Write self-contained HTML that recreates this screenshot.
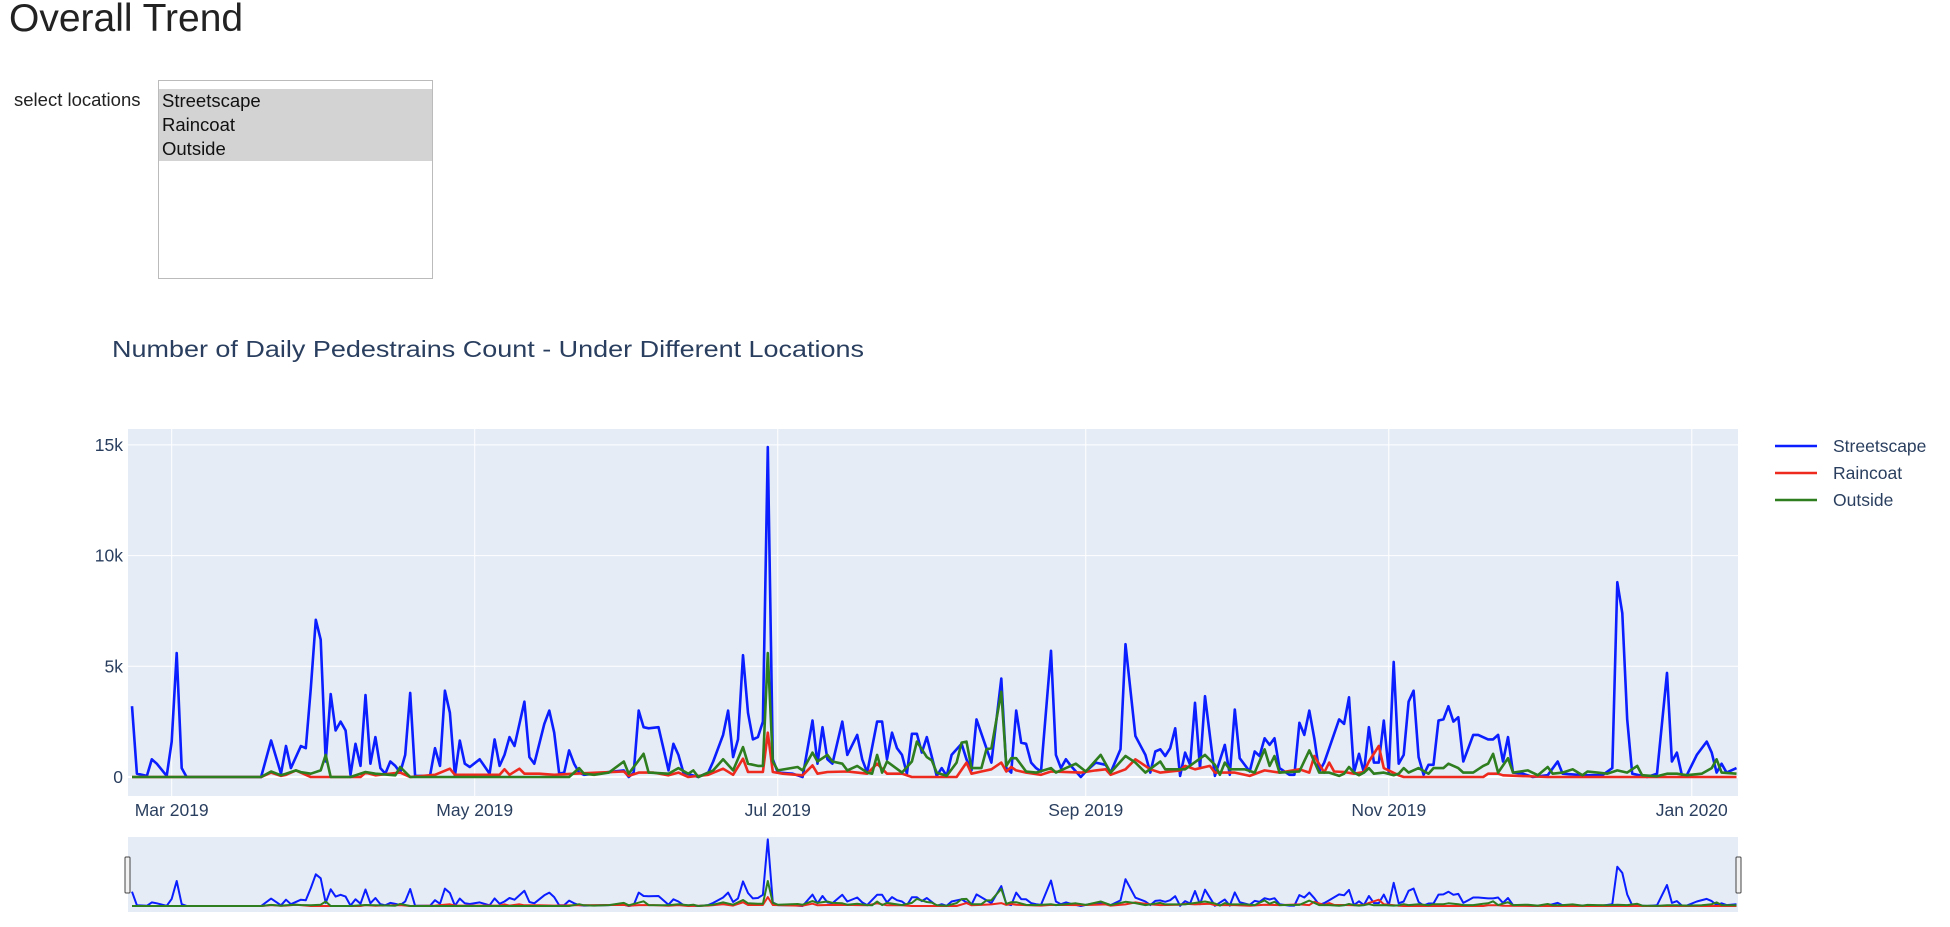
<!DOCTYPE html>
<html><head><meta charset="utf-8">
<style>
body{margin:0;width:1950px;height:927px;background:#fff;font-family:"Liberation Sans",sans-serif;overflow:hidden;position:relative}
#h{position:absolute;left:9px;top:-3px;margin:0;font-size:39px;font-weight:normal;color:#222}
#lbl{position:absolute;left:14px;top:89px;font-size:18.5px;color:#222}
#lb{position:absolute;left:158px;top:80px;width:273px;height:197px;border:1px solid #bbb;background:#fff}
.opt{position:absolute;left:0;width:273px;height:24px;background:#d3d3d3;font-size:18.5px;line-height:24px;padding-left:3px;box-sizing:border-box;color:#111}
svg{position:absolute;left:0;top:0}
</style></head><body>
<h1 id="h">Overall Trend</h1>
<div id="lbl">select locations</div>
<div id="lb">
<div class="opt" style="top:8px">Streetscape</div>
<div class="opt" style="top:32px">Raincoat</div>
<div class="opt" style="top:56px">Outside</div>
</div>
<svg id="c" width="1950" height="927"></svg>
<script>
const blueDays=[0,1,3,4,5,7,8,9,10,11,26,28,30,31,32,34,35,36,37,38,39,40,41,42,43,44,45,46,47,48,49,50,51,52,53,54,55,56,57,60,61,62,63,64,65,66,67,68,70,72,73,74,75,76,77,79,80,81,83,84,85,86,87,88,89,90,91,99,100,101,102,103,104,106,108,109,110,111,114,116,117,119,120,121,122,123,124,125,126,127,128,129,130,133,135,137,138,139,140,141,143,144,146,147,148,150,151,152,153,154,155,156,157,158,159,160,162,163,164,165,167,168,169,170,172,173,175,176,177,178,179,180,181,182,183,185,186,187,188,189,191,192,194,196,197,199,200,202,204,205,206,207,208,209,210,211,212,213,214,215,216,218,220,221,222,223,225,226,227,228,229,230,231,233,234,235,236,237,238,239,240,241,243,244,245,246,247,248,249,250,251,252,253,254,255,256,257,258,259,260,261,262,263,264,265,266,267,268,269,270,271,273,274,275,276,277,278,280,282,285,287,288,292,296,298,299,300,301,302,305,307,309,310,311,312,313,315,317,318,319,320,321,323];
const blueVals=[3200,150,50,800,600,50,1600,5600,400,0,0,1650,150,1400,400,1400,1300,4000,7100,6200,700,3750,2100,2500,2100,100,1500,500,3700,600,1800,400,150,700,500,200,1000,3800,50,50,1300,500,3900,2900,50,1650,600,450,800,150,1700,500,1000,1800,1400,3400,900,600,2400,3000,2000,150,200,1200,600,200,100,300,0,200,3000,2250,2200,2250,300,1500,1000,200,0,200,700,1900,3000,900,1700,5500,2900,1700,1800,2500,14900,800,200,150,0,2550,600,2250,800,600,2500,1000,1900,800,200,2500,2500,800,2000,1300,1000,150,1950,1950,1100,1800,50,400,50,1000,1500,800,300,2600,1300,650,4450,400,200,3000,1550,1500,650,400,250,5700,1000,400,800,500,0,250,650,550,200,1250,6000,1850,1000,200,1150,1250,950,1300,2200,50,1100,550,3350,400,3650,50,1450,100,3050,850,250,1150,950,1750,1450,1750,400,100,100,2450,1900,3000,1750,250,650,1300,2600,2400,3600,200,1050,200,2250,650,650,2550,200,5200,600,1000,3400,3900,900,100,550,550,2550,2600,3200,2500,2700,700,1300,1900,1900,1700,1700,1900,700,1800,200,150,0,80,700,150,80,80,400,8800,7400,2600,150,0,150,4700,700,1100,80,80,1000,1600,1100,200,600,200,400];
const redDays=[0,26,28,30,31,33,36,46,47,49,54,56,61,64,65,74,75,76,78,79,82,85,89,94,99,100,102,105,108,110,112,116,119,121,123,124,127,128,129,131,135,137,138,140,144,146,148,150,152,155,157,166,168,169,171,173,175,176,177,178,180,183,185,191,194,196,197,200,202,203,205,207,211,212,214,217,218,222,225,228,231,235,237,238,240,241,242,244,246,248,249,251,252,255,256,272,273,275,276,285,323];
const redVals=[0,0,200,50,100,300,0,0,200,75,200,0,100,375,100,100,350,100,375,150,150,100,150,200,250,50,200,200,75,200,0,100,375,100,825,225,225,2000,225,150,75,525,150,225,250,200,150,600,150,150,0,0,650,150,250,350,650,250,450,300,200,100,250,200,300,350,100,350,800,650,350,200,300,500,350,500,200,200,50,300,200,350,200,950,200,650,250,225,150,225,700,1400,400,75,0,0,150,150,75,0,0];
const greenDays=[0,26,28,30,31,33,34,36,38,39,40,44,47,49,53,54,56,88,90,91,93,96,99,100,103,104,108,110,112,113,114,117,119,121,123,124,126,127,128,129,130,134,135,137,138,140,141,143,144,146,148,149,150,151,152,155,157,158,160,161,162,164,166,167,168,169,171,172,173,175,176,177,178,180,182,185,186,188,190,192,195,197,200,202,204,207,208,212,216,218,219,220,221,224,226,228,229,230,231,235,237,239,241,243,244,245,246,247,248,249,250,252,254,255,256,257,259,261,262,264,265,267,268,270,272,273,274,275,277,278,281,283,285,286,288,290,292,293,295,297,299,301,303,304,307,309,311,313,316,318,319,320,323];
const greenVals=[0,0,250,75,150,300,220,150,300,1000,0,0,225,150,75,450,0,0,400,150,100,200,700,150,1050,200,150,400,150,300,0,300,800,300,1350,600,500,500,5600,700,300,450,300,1100,700,1000,700,600,300,500,200,150,1000,200,700,200,700,1600,900,750,200,50,650,1550,1600,400,400,1250,1300,3850,500,850,850,250,200,400,200,400,600,250,1000,200,950,650,200,700,350,350,1000,550,100,650,350,350,200,1250,500,950,200,250,1200,200,200,50,150,450,200,80,200,400,150,200,80,150,400,200,400,150,400,400,600,400,200,200,500,600,1050,200,850,200,300,80,450,150,200,350,80,250,200,150,300,200,500,80,30,150,150,80,150,400,800,200,150];
const yTicks=[0,5000,10000,15000];
const yTickLabels=['0','5k','10k','15k'];
const xTickDays=[8,69,130,192,253,314];
const xTickLabels=['Mar 2019','May 2019','Jul 2019','Sep 2019','Nov 2019','Jan 2020'];
const seriesNames=['Streetscape','Raincoat','Outside'];

const NS='http://www.w3.org/2000/svg';
const svg=document.getElementById('c');
function mk(t,a,p){const e=document.createElementNS(NS,t);for(const k in a)e.setAttribute(k,a[k]);(p||svg).appendChild(e);return e;}
const L=128,R=1738,D0=-0.8,D1=323.3;
const xs=d=>L+(d-D0)/(D1-D0)*(R-L);
const ys=v=>777-v/5000*110.7;
const ysR=v=>906-v/15000*67;

const bg=mk('rect',{x:L,y:429,width:R-L,height:367,fill:'#e5ecf6'});


xTickDays.forEach((d,i)=>{
  const g=mk('line',{x1:xs(d),x2:xs(d),y1:429,y2:796,stroke:'#fff','stroke-width':1});
  
  
  const t=mk('text',{x:xs(d),y:816,'text-anchor':'middle','font-size':17.5,fill:'#2a3f5f'});
  t.textContent=xTickLabels[i];
  
  
});
yTicks.forEach((v,i)=>{
  const g=mk('line',{x1:L,x2:R,y1:ys(v),y2:ys(v),stroke:'#fff','stroke-width':v===0?2:1});
  
  
  const t=mk('text',{x:123,y:ys(v)+6,'text-anchor':'end','font-size':17.5,fill:'#2a3f5f'});
  t.textContent=yTickLabels[i];
  
  
});
const title=mk('text',{x:112,y:357,'font-size':23,fill:'#2a3f5f',textLength:752,lengthAdjust:'spacingAndGlyphs'});
title.textContent='Number of Daily Pedestrains Count - Under Different Locations';



const rbg=mk('rect',{x:L,y:837,width:R-L,height:75,fill:'#e5ecf6'});



const series=[[blueDays,blueVals,'#0a1eff'],[redDays,redVals,'#ee2a1e'],[greenDays,greenVals,'#2e7d1e']];
const clip=mk('clipPath',{id:'cp'});mk('rect',{x:L,y:429,width:R-L,height:367},clip);
series.forEach((s,i)=>{
  const pts=s[0].map((d,j)=>xs(d).toFixed(1)+','+ys(s[1][j]).toFixed(1)).join(' ');
  const p=mk('polyline',{points:pts,fill:'none',stroke:s[2],'stroke-width':2.6,'stroke-linejoin':'round','clip-path':'url(#cp)'});
  
  
  const pts2=s[0].map((d,j)=>xs(d).toFixed(1)+','+ysR(s[1][j]).toFixed(1)).join(' ');
  const p2=mk('polyline',{points:pts2,fill:'none',stroke:s[2],'stroke-width':2,'stroke-linejoin':'round'});
  
  
  const ly=446+i*27;
  const ll=mk('line',{x1:1775,x2:1817,y1:ly,y2:ly,stroke:s[2],'stroke-width':2.6});
  
  
  const lt=mk('text',{x:1833,y:ly+6,'font-size':17.5,fill:'#2a3f5f'});
  lt.textContent=seriesNames[i];
  
  
});
[L-3,R-2].forEach((x,i)=>{
  const h=mk('rect',{x:x,y:857,width:5,height:36,fill:'#f2f2f2',stroke:'#444','stroke-width':1,rx:1});
  
  
});
</script>
</body></html>
